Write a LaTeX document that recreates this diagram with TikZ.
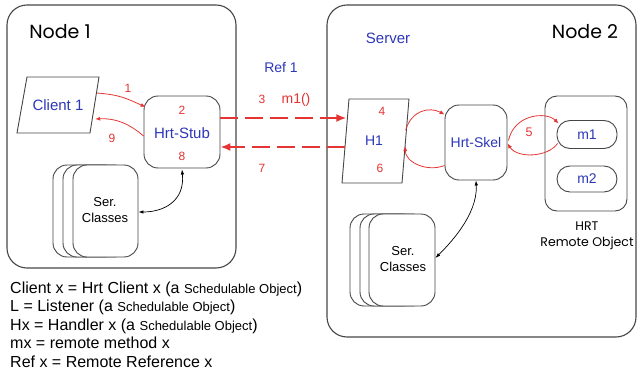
\documentclass[tikz,border=0pt]{standalone}
\usepackage{fontspec}
\setmainfont{Liberation Sans}
\newfontfamily\geofont{Poppins}
\usetikzlibrary{arrows.meta}

\definecolor{lblblue}{RGB}{45,55,185}
\definecolor{lblred}{RGB}{228,52,52}
\definecolor{edgegrey}{RGB}{70,70,70}

\tikzset{
  container/.style={draw=edgegrey, line width=1.1pt, rounded corners=20pt},
  rbox/.style={draw=edgegrey, line width=0.9pt, rounded corners=14pt, fill=white, inner sep=0pt},
  capsule/.style={draw=edgegrey, line width=0.9pt, rounded corners=13pt, fill=white, inner sep=0pt,
                  minimum width=60pt, minimum height=28pt, text=lblblue, font=\fontsize{14}{16}\selectfont},
  para/.style={draw=edgegrey, line width=0.9pt, fill=white},
  anchorbox/.style={inner sep=0pt},
  bluetxt/.style={text=lblblue, font=\fontsize{15}{17}\selectfont, inner sep=0pt},
  num/.style={text=lblred, font=\fontsize{12}{14}\selectfont, inner sep=0pt},
  sertxt/.style={align=center, font=\fontsize{13}{16}\selectfont, inner sep=0pt},
  title/.style={font=\geofont\fontsize{19}{22}\selectfont, inner sep=0pt},
  legend/.style={anchor=base west, font=\fontsize{16}{18}\selectfont, inner sep=0pt},
  redarrow/.style={draw=lblred, line width=0.8pt, -{Latex[length=5pt,width=4pt]}},
  dasharrow/.style={draw=lblred, line width=1.6pt, dash pattern=on 18pt off 7pt,
                    -{Latex[length=10pt,width=8pt]}},
  blackarrow/.style={draw=black, line width=0.7pt,
                     {Latex[length=5pt,width=3.5pt]}-{Latex[length=5pt,width=3.5pt]}},
}
\newcommand{\schedobj}{{\fontsize{13}{15}\selectfont Schedulable Object}}

\begin{document}
\begin{tikzpicture}[x=1pt,y=-1pt]
\useasboundingbox (0,0) rectangle (638,372);

% ---- host containers ----
\draw[container] (7,5) rectangle (236,268);
\draw[container] (327,5) rectangle (636,337);
\node[title] (n1title) at (60,32) {Node 1};
\node[title] (n2title) at (585,32) {Node 2};
\node[bluetxt] (server) at (388,38) {Server};

% ---- Node 1: client, stub, serialisation classes ----
\draw[para] (27,77) -- (99,77) -- (90,133) -- (17,133) -- cycle;
\node[anchorbox, minimum width=76pt, minimum height=56pt] (client) at (58,105) {};
\node[bluetxt] (clientlbl) at (client.center) {Client 1};

\node[rbox, minimum width=76pt, minimum height=72pt] (stub) at (182,132) {};
\node[num] (n2) at (182,110) {2};
\node[bluetxt] (stublbl) at (182,133) {Hrt-Stub};
\node[num] (n8) at (182,156) {8};

\node[rbox, minimum width=65pt, minimum height=92pt] (serA3) at (85.5,211) {};
\node[rbox, minimum width=65pt, minimum height=92pt] (serA2) at (95.5,211) {};
\node[rbox, minimum width=65pt, minimum height=92pt] (serA) at (105.5,211) {};
\node[sertxt] (serAlbl) at (105,210) {Ser.\\Classes};

% ---- Node 2: handler, skeleton, remote object ----
\draw[para] (349,99) -- (409,99) -- (402,183) -- (342,183) -- cycle;
\node[anchorbox, minimum width=60pt, minimum height=84pt] (h1) at (375.5,141) {};
\node[num] (n4) at (382,111) {4};
\node[bluetxt, font=\fontsize{14}{16}\selectfont] (h1lbl) at (374,141) {H1};
\node[num] (n6) at (380,168) {6};

\node[rbox, minimum width=62pt, minimum height=75pt] (skel) at (476,142.5) {};
\node[bluetxt, font=\fontsize{14}{16}\selectfont] (skellbl) at (476,142) {Hrt-Skel};

\node[rbox, rounded corners=12pt, minimum width=82pt, minimum height=115pt] (robj) at (586,153.5) {};
\node[capsule] (m1) at (587,134.5) {m1};
\node[capsule, minimum height=26pt] (m2) at (587,179) {m2};
\node[sertxt, font=\geofont\fontsize{12.5}{15.5}\selectfont] (robjlbl) at (587,236) {HRT\\Remote Object};

\node[rbox, minimum width=66pt, minimum height=92pt] (serB3) at (383,260) {};
\node[rbox, minimum width=66pt, minimum height=92pt] (serB2) at (393,260) {};
\node[rbox, minimum width=66pt, minimum height=92pt] (serB) at (402,260) {};
\node[sertxt] (serBlbl) at (403,259) {Ser.\\Classes};

% ---- local calls in Node 1 (shifts are in page points, upward positive) ----
\draw[redarrow] ([xshift=1pt,yshift=12pt]client.east) .. controls +(23,2) and +(-20,-9) .. ([xshift=2pt,yshift=25pt]stub.west);
\draw[redarrow] ([yshift=-4pt]stub.west) .. controls +(-14,-12) and +(21,-1) .. ([xshift=-1pt,yshift=-14pt]client.east);
\node[num] (n1) at (128,88) {1};
\node[num] (n9) at (112,138) {9};
\draw[blackarrow] ([yshift=-1pt]stub.south) .. controls +(3,32) and +(25,0) .. ([yshift=-1pt]serA.east);

% ---- remote invocation over the reference ----
\draw[dasharrow] ([yshift=14pt]stub.east) -- ([xshift=1pt,yshift=23pt]h1.west);
\draw[dasharrow] ([xshift=-0.5pt,yshift=-6pt]h1.west) -- ([yshift=-15pt]stub.east);
\node[bluetxt, font=\fontsize{14}{16}\selectfont] (ref1) at (281,68) {Ref 1};
\node[num] (n3) at (262,99) {3};
\node[num, font=\fontsize{14}{16}\selectfont] (m1call) at (296,100) {m1()};
\node[num] (n7) at (262,168) {7};

% ---- dispatch in Node 2 ----
\draw[redarrow] ([yshift=11pt]h1.east) .. controls +(6,-20) and +(-15,-8) .. ([yshift=28pt]skel.west);
\draw[redarrow] ([yshift=-23pt]skel.west) .. controls +(-18,7) and +(0,16) .. ([xshift=-0.5pt,yshift=-5pt]h1.east);
\draw[redarrow] ([xshift=1pt,yshift=2pt]skel.east) .. controls +(6,-27) and +(-12,-12) .. ([xshift=2pt,yshift=11pt]m1.west);
\draw[redarrow] ([xshift=1pt,yshift=-9pt]m1.west) .. controls +(-10,14) and +(10,15) .. ([yshift=-1pt]skel.east);
\node[num, font=\fontsize{12.5}{14}\selectfont] (n5) at (529,132) {5};
\draw[blackarrow] (skel.south) .. controls +(2,35) and +(12,-12) .. ([yshift=2pt]serB.east);

% ---- legend ----
\node[legend] (lg1) at (10,293) {Client x = Hrt Client x (a \schedobj)};
\node[legend] (lg2) at (10,311.5) {L = Listener (a \schedobj)};
\node[legend] (lg3) at (10,330) {Hx = Handler x (a \schedobj)};
\node[legend] (lg4) at (10,348.5) {mx = remote method x};
\node[legend] (lg5) at (10,367) {Ref x = Remote Reference x};
\end{tikzpicture}
\end{document}
